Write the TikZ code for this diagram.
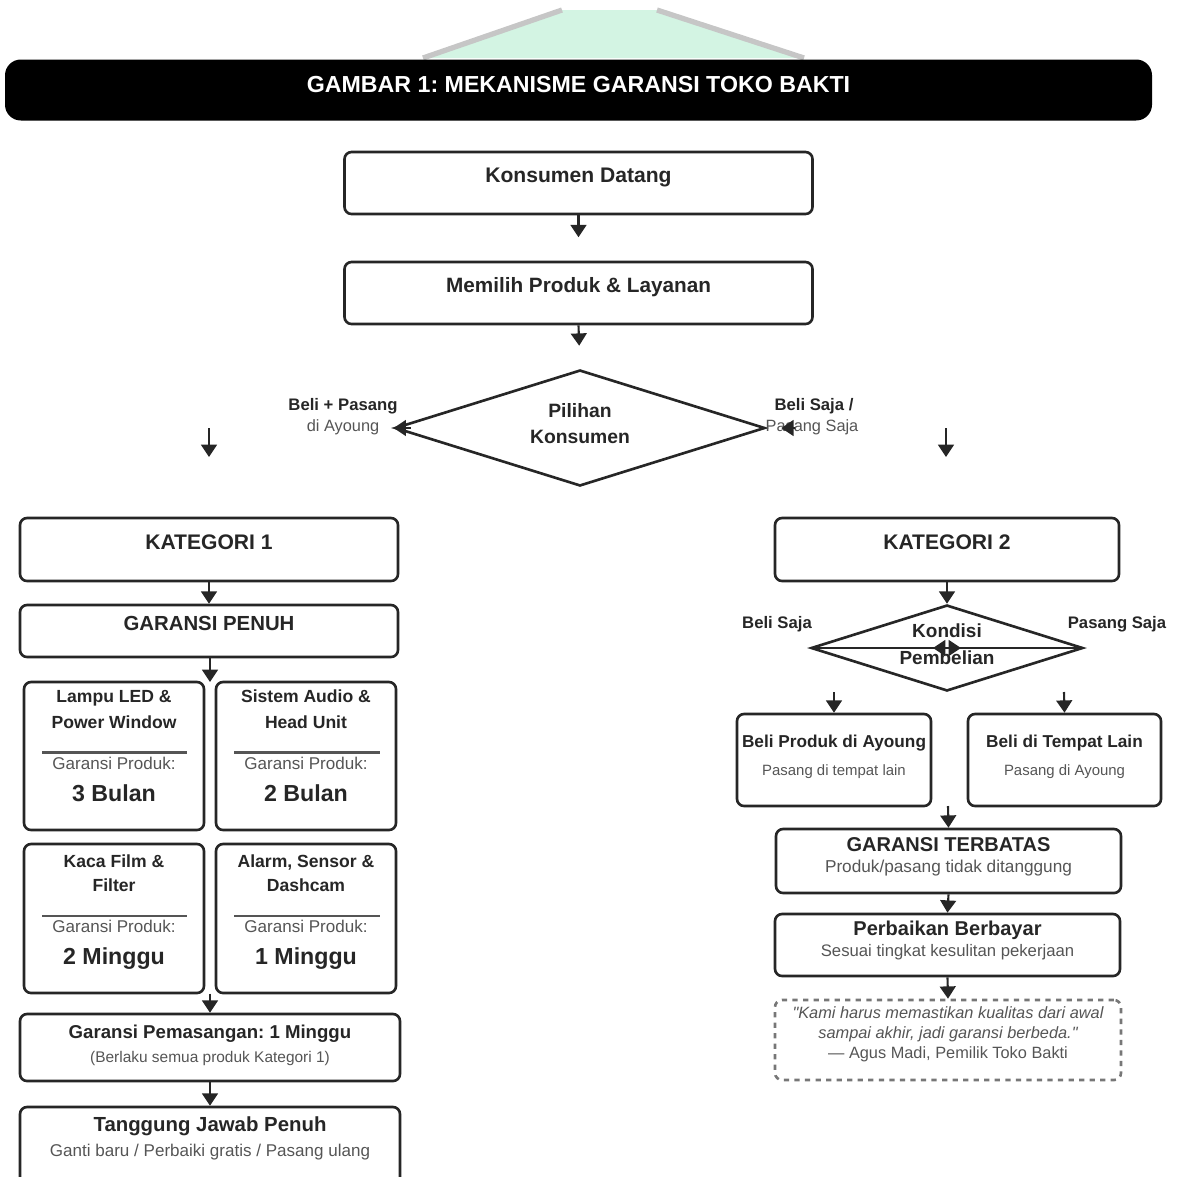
\documentclass[tikz,border=0pt]{standalone}
\usepackage{fontspec}
\setmainfont{Liberation Sans}
\newfontfamily\quotefont{Liberation Sans}[Ligatures=TeXOff]
\usetikzlibrary{shapes.geometric, arrows.meta, positioning, calc}
\definecolor{inkgray}{HTML}{262626}
\definecolor{subgray}{HTML}{555555}
\definecolor{mintfill}{HTML}{D3F4E3}
\definecolor{edgegray}{HTML}{C6C6C6}
\newcommand{\pu}{0.02cm}
\newcommand{\fs}[1]{\fontsize{#1}{#1}\selectfont}
\frenchspacing

\begin{document}
\begin{tikzpicture}[x=\pu, y=-\pu,
  box/.style 2 args={draw=inkgray, line width=1.5pt, rounded corners=4pt,
    minimum width=#1*\pu, minimum height=#2*\pu, inner sep=0pt},
  choice/.style 2 args={diamond, draw=inkgray, line width=1.5pt,
    minimum width=#1*\pu, minimum height=#2*\pu, inner sep=0pt},
  hd/.style={font=\bfseries\fs{#1}, text=inkgray, anchor=base, inner sep=0pt},
  sub/.style={font=\fs{#1}, text=subgray, anchor=base, inner sep=0pt},
  arr/.style={-{Triangle[length=7pt,width=9pt]}, line width=1.2pt, draw=inkgray},
  divider/.style={draw=subgray, line width=1.2pt}
]
\useasboundingbox (0,0) rectangle (1177,1177);

% Header
\fill[mintfill] (423,58) -- (562,10) -- (657,10) -- (804,58) -- cycle;
\draw[edgegray, line width=3pt] (423,58) -- (562,10);
\draw[edgegray, line width=3pt] (657,10) -- (804,58);
\node[fill=black, rounded corners=9pt, minimum width=1147*\pu,
      minimum height=61*\pu] (bar) at (578.5,90) {};
\node[font=\bfseries\fs{13.2}, text=white, anchor=base] (bar-t) at (578.5,92)
  {GAMBAR 1: MEKANISME GARANSI TOKO BAKTI};

% Top flow
\node[box={468}{62}] (kd) at (578.5,183) {};
\node[hd=12] (kd-t) at (578.5,182) {Konsumen Datang};
\node[box={468}{62}] (mp) at (578.5,293) {};
\node[hd=11.8] (mp-t) at (578.5,292) {Memilih Produk \& Layanan};

\node[choice={370}{116}] (pil) at (580,428) {};
\node[hd=11] (pil-a) at (580,417) {Pilihan};
\node[hd=11] (pil-b) at (580,443) {Konsumen};

\node[hd=9.5] (lft-a) at (343,410) {Beli + Pasang};
\node[sub=9.3] (lft-b) at (343,431) {di Ayoung};
\node[hd=9.5] (rgt-a) at (814,410) {Beli Saja /};
\node[sub=9.3] (rgt-b) at (812,431) {Pasang Saja};

\draw[arr, shorten >=0.47cm] (kd.south) -- (mp.north);
\draw[arr, shorten >=0.46cm] (mp.south) -- (pil.north);
\draw[arr] ([xshift=0.34cm]pil.west) -- (pil.west);
\draw[arr] ([xshift=0.58cm]pil.east) -- ([xshift=0.3cm]pil.east);

\coordinate (fl-s) at (209,428);
\coordinate (fl-e) at (209,457);
\coordinate (fr-s) at (946,428);
\coordinate (fr-e) at (946,457);
\draw[arr] (fl-s) -- (fl-e);
\draw[arr] (fr-s) -- (fr-e);

% Kategori 1
\node[box={378}{63}] (kat1) at (209,549.5) {};
\node[hd=12] (kat1-t) at (209,549) {KATEGORI 1};
\node[box={378}{52}] (gp) at (209,631) {};
\node[hd=11.6] (gp-t) at (209,630) {GARANSI PENUH};

\node[box={180}{148}] (p1) at (114,756) {};
\node[hd=10] (p1-a) at (114,702) {Lampu LED \&};
\node[hd=10] (p1-b) at (114,728) {Power Window};
\draw[divider] (42,752.5) -- (187,752.5);
\node[sub=9.7] (p1-c) at (114,769) {Garansi Produk:};
\node[hd=13.2] (p1-d) at (114,801) {3 Bulan};

\node[box={180}{148}] (p2) at (306,756) {};
\node[hd=10] (p2-a) at (306,702) {Sistem Audio \&};
\node[hd=10] (p2-b) at (306,728) {Head Unit};
\draw[divider] (234,752.5) -- (380,752.5);
\node[sub=9.7] (p2-c) at (306,769) {Garansi Produk:};
\node[hd=13.2] (p2-d) at (306,801) {2 Bulan};

\node[box={180}{149}] (p3) at (114,918.5) {};
\node[hd=10] (p3-a) at (114,867) {Kaca Film \&};
\node[hd=10] (p3-b) at (114,891) {Filter};
\draw[divider] (42,916) -- (187,916);
\node[sub=9.7] (p3-c) at (114,932) {Garansi Produk:};
\node[hd=13.2] (p3-d) at (114,964) {2 Minggu};

\node[box={180}{149}] (p4) at (306,918.5) {};
\node[hd=10] (p4-a) at (306,867) {Alarm, Sensor \&};
\node[hd=10] (p4-b) at (306,891) {Dashcam};
\draw[divider] (234,916) -- (380,916);
\node[sub=9.7] (p4-c) at (306,932) {Garansi Produk:};
\node[hd=13.2] (p4-d) at (306,964) {1 Minggu};

\node[box={380}{67}] (gpm) at (210,1047.5) {};
\node[hd=10.6] (gpm-a) at (210,1038.5) {Garansi Pemasangan: 1 Minggu};
\node[sub=8.8] (gpm-b) at (210,1062) {(Berlaku semua produk Kategori 1)};
\node[box={380}{83}] (tj) at (210,1148.5) {};
\node[hd=11.6] (tj-a) at (210,1131) {Tanggung Jawab Penuh};
\node[sub=9.7] (tj-b) at (210,1156) {Ganti baru / Perbaiki gratis / Pasang ulang};

\coordinate (pj1) at (210,682);
\coordinate (pj2) at (210,993.5);
\draw[arr] (kat1.south) -- (gp.north);
\draw[arr] (gp.south -| pj1) -- (pj1);
\draw[arr] (pj2) -- (gpm.north);
\draw[arr] (gpm.south) -- (tj.north);

% Kategori 2
\node[box={344}{63}] (kat2) at (947,549.5) {};
\node[hd=12] (kat2-t) at (947,549) {KATEGORI 2};

\node[choice={272}{86}] (kond) at (947,648) {};
\node[hd=10.8] (kond-a) at (947,637) {Kondisi};
\node[hd=10.8] (kond-b) at (947,664) {Pembelian};
\node[hd=9.5] (kl) at (777,628.5) {Beli Saja};
\node[hd=9.5] (kr) at (1117,628.5) {Pasang Saja};
\draw[inkgray, line width=1.2pt] (kond.west) -- (kond.east);
\draw[arr] (kond.east) -- ([xshift=-0.28cm]kond.center);
\draw[arr] (kond.west) -- ([xshift=0.28cm]kond.center);
\draw[arr] (kat2.south) -- (kond.north);

\node[box={194}{92}] (bp) at (834,760) {};
\node[hd=9.8] (bp-a) at (834,747) {Beli Produk di Ayoung};
\node[sub=8.5] (bp-b) at (834,775.5) {Pasang di tempat lain};
\node[box={193}{92}] (bt) at (1064.5,760) {};
\node[hd=9.8] (bt-a) at (1064.5,747) {Beli di Tempat Lain};
\node[sub=8.5] (bt-b) at (1064.5,775.5) {Pasang di Ayoung};

\coordinate (kb-l) at (834,692);
\coordinate (kb-r) at (1064,692);
\draw[arr] (kb-l) -- (bp.north);
\draw[arr] (kb-r) -- (bt.north);

\node[box={345}{64}] (gt) at (948.5,861) {};
\node[hd=11.4] (gt-a) at (948.5,851) {GARANSI TERBATAS};
\node[sub=9.8] (gt-b) at (948.5,872) {Produk/pasang tidak ditanggung};
\node[box={345}{62}] (pb) at (947.5,945) {};
\node[hd=11.4] (pb-a) at (947.5,935) {Perbaikan Berbayar};
\node[sub=9.5] (pb-b) at (947.5,956) {Sesuai tingkat kesulitan pekerjaan};

\node[box={346}{80}, draw=subgray!80, dashed] (qt) at (948,1040) {};
\node[font=\quotefont\itshape\fs{9.3}, text=subgray, anchor=base] (qt-a) at (948,1018)
  {"Kami harus memastikan kualitas dari awal};
\node[font=\quotefont\itshape\fs{9.3}, text=subgray, anchor=base] (qt-b) at (948,1038)
  {sampai akhir, jadi garansi berbeda."};
\node[sub=9.3] (qt-c) at (948,1058) {--- Agus Madi, Pemilik Toko Bakti};

\coordinate (rj) at (948,806);
\draw[arr] (rj) -- (gt.north);
\draw[arr] (gt.south) -- (pb.north);
\draw[arr] (pb.south) -- (qt.north);
\end{tikzpicture}
\end{document}
